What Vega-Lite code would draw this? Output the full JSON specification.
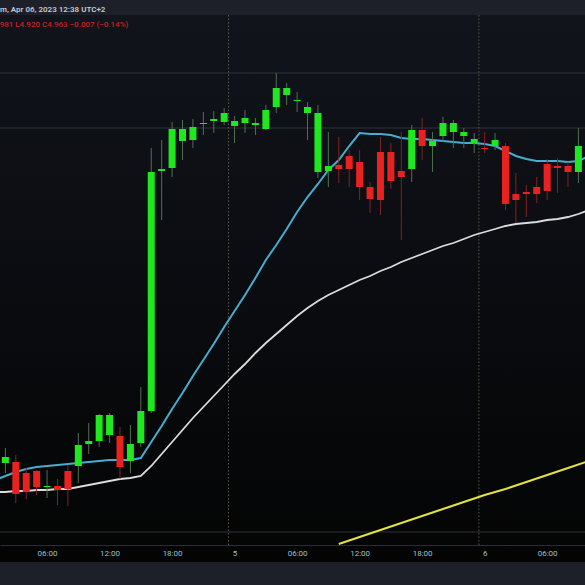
{
  "$schema": "https://vega.github.io/schema/vega-lite/v6.json",
  "width": 585,
  "height": 547,
  "autosize": {"type": "none"},
  "padding": {"left": 0, "right": 0, "top": 15, "bottom": 23},
  "background": "#1e2029",
  "title": {
    "text": "m, Apr 06, 2023 12:38 UTC+2",
    "anchor": "start",
    "frame": "group",
    "orient": "top",
    "offset": 1,
    "fontSize": 8,
    "fontWeight": 600,
    "font": "Roboto",
    "color": "#c5c8d0"
  },
  "config": {
    "view": {
      "stroke": null,
      "fill": {
        "gradient": "linear",
        "x1": 0, "y1": 0, "x2": 0, "y2": 1,
        "stops": [
          {"offset": 0, "color": "#11141b"},
          {"offset": 0.5, "color": "#0a0c10"},
          {"offset": 1, "color": "#040404"}
        ]
      }
    }
  },
  "resolve": {"axis": {"x": "independent", "y": "independent"}},
  "datasets": {
    "candles": [
      {"t": "2023-04-04T02:00:00Z", "o": 4.665, "h": 4.680, "l": 4.655, "c": 4.671},
      {"t": "2023-04-04T03:00:00Z", "o": 4.666, "h": 4.673, "l": 4.625, "c": 4.634},
      {"t": "2023-04-04T04:00:00Z", "o": 4.655, "h": 4.660, "l": 4.629, "c": 4.636},
      {"t": "2023-04-04T05:00:00Z", "o": 4.657, "h": 4.658, "l": 4.633, "c": 4.641},
      {"t": "2023-04-04T06:00:00Z", "o": 4.641, "h": 4.658, "l": 4.630, "c": 4.642},
      {"t": "2023-04-04T07:00:00Z", "o": 4.642, "h": 4.649, "l": 4.623, "c": 4.638},
      {"t": "2023-04-04T08:00:00Z", "o": 4.657, "h": 4.663, "l": 4.622, "c": 4.639},
      {"t": "2023-04-04T09:00:00Z", "o": 4.662, "h": 4.695, "l": 4.645, "c": 4.683},
      {"t": "2023-04-04T10:00:00Z", "o": 4.684, "h": 4.705, "l": 4.674, "c": 4.687},
      {"t": "2023-04-04T11:00:00Z", "o": 4.687, "h": 4.714, "l": 4.681, "c": 4.713},
      {"t": "2023-04-04T12:00:00Z", "o": 4.693, "h": 4.715, "l": 4.685, "c": 4.713},
      {"t": "2023-04-04T13:00:00Z", "o": 4.692, "h": 4.701, "l": 4.649, "c": 4.661},
      {"t": "2023-04-04T14:00:00Z", "o": 4.667, "h": 4.703, "l": 4.655, "c": 4.684},
      {"t": "2023-04-04T15:00:00Z", "o": 4.685, "h": 4.741, "l": 4.681, "c": 4.717},
      {"t": "2023-04-04T16:00:00Z", "o": 4.717, "h": 4.980, "l": 4.715, "c": 4.956},
      {"t": "2023-04-04T17:00:00Z", "o": 4.957, "h": 4.988, "l": 4.908, "c": 4.959},
      {"t": "2023-04-04T18:00:00Z", "o": 4.960, "h": 5.006, "l": 4.951, "c": 4.999},
      {"t": "2023-04-04T19:00:00Z", "o": 4.987, "h": 5.008, "l": 4.968, "c": 4.999},
      {"t": "2023-04-04T20:00:00Z", "o": 4.988, "h": 5.009, "l": 4.980, "c": 5.001},
      {"t": "2023-04-04T21:00:00Z", "o": 5.004, "h": 5.016, "l": 4.993, "c": 5.005},
      {"t": "2023-04-04T22:00:00Z", "o": 5.007, "h": 5.017, "l": 4.995, "c": 5.009},
      {"t": "2023-04-04T23:00:00Z", "o": 5.006, "h": 5.020, "l": 5.003, "c": 5.015},
      {"t": "2023-04-05T00:00:00Z", "o": 5.002, "h": 5.012, "l": 4.985, "c": 5.007},
      {"t": "2023-04-05T01:00:00Z", "o": 5.005, "h": 5.018, "l": 4.995, "c": 5.010},
      {"t": "2023-04-05T02:00:00Z", "o": 5.003, "h": 5.010, "l": 4.993, "c": 5.005},
      {"t": "2023-04-05T03:00:00Z", "o": 4.999, "h": 5.023, "l": 4.998, "c": 5.018},
      {"t": "2023-04-05T04:00:00Z", "o": 5.021, "h": 5.055, "l": 5.015, "c": 5.040},
      {"t": "2023-04-05T05:00:00Z", "o": 5.033, "h": 5.045, "l": 5.023, "c": 5.040},
      {"t": "2023-04-05T06:00:00Z", "o": 5.027, "h": 5.036, "l": 5.016, "c": 5.028},
      {"t": "2023-04-05T07:00:00Z", "o": 5.015, "h": 5.026, "l": 4.988, "c": 5.021},
      {"t": "2023-04-05T08:00:00Z", "o": 4.956, "h": 5.023, "l": 4.950, "c": 5.015},
      {"t": "2023-04-05T09:00:00Z", "o": 4.957, "h": 4.996, "l": 4.941, "c": 4.962},
      {"t": "2023-04-05T10:00:00Z", "o": 4.963, "h": 4.991, "l": 4.945, "c": 4.959},
      {"t": "2023-04-05T11:00:00Z", "o": 4.972, "h": 4.978, "l": 4.941, "c": 4.959},
      {"t": "2023-04-05T12:00:00Z", "o": 4.966, "h": 4.978, "l": 4.928, "c": 4.941},
      {"t": "2023-04-05T13:00:00Z", "o": 4.941, "h": 4.946, "l": 4.915, "c": 4.929},
      {"t": "2023-04-05T14:00:00Z", "o": 4.976, "h": 4.991, "l": 4.913, "c": 4.928},
      {"t": "2023-04-05T15:00:00Z", "o": 4.976, "h": 4.985, "l": 4.939, "c": 4.947},
      {"t": "2023-04-05T16:00:00Z", "o": 4.957, "h": 4.996, "l": 4.888, "c": 4.951},
      {"t": "2023-04-05T17:00:00Z", "o": 4.959, "h": 5.003, "l": 4.946, "c": 4.998},
      {"t": "2023-04-05T18:00:00Z", "o": 4.998, "h": 5.010, "l": 4.968, "c": 4.982},
      {"t": "2023-04-05T19:00:00Z", "o": 4.982, "h": 4.996, "l": 4.956, "c": 4.987},
      {"t": "2023-04-05T20:00:00Z", "o": 4.992, "h": 5.011, "l": 4.986, "c": 5.005},
      {"t": "2023-04-05T21:00:00Z", "o": 4.996, "h": 5.008, "l": 4.980, "c": 5.005},
      {"t": "2023-04-05T22:00:00Z", "o": 4.992, "h": 5.000, "l": 4.980, "c": 4.996},
      {"t": "2023-04-05T23:00:00Z", "o": 4.985, "h": 4.995, "l": 4.975, "c": 4.989},
      {"t": "2023-04-06T00:00:00Z", "o": 4.980, "h": 4.996, "l": 4.975, "c": 4.979},
      {"t": "2023-04-06T01:00:00Z", "o": 4.982, "h": 4.995, "l": 4.978, "c": 4.988},
      {"t": "2023-04-06T02:00:00Z", "o": 4.982, "h": 4.985, "l": 4.918, "c": 4.924},
      {"t": "2023-04-06T03:00:00Z", "o": 4.934, "h": 4.955, "l": 4.905, "c": 4.928},
      {"t": "2023-04-06T04:00:00Z", "o": 4.936, "h": 4.943, "l": 4.911, "c": 4.934},
      {"t": "2023-04-06T05:00:00Z", "o": 4.941, "h": 4.951, "l": 4.925, "c": 4.934},
      {"t": "2023-04-06T06:00:00Z", "o": 4.964, "h": 4.969, "l": 4.928, "c": 4.937},
      {"t": "2023-04-06T07:00:00Z", "o": 4.962, "h": 4.970, "l": 4.935, "c": 4.960},
      {"t": "2023-04-06T08:00:00Z", "o": 4.962, "h": 4.966, "l": 4.941, "c": 4.956},
      {"t": "2023-04-06T09:00:00Z", "o": 4.956, "h": 5.000, "l": 4.945, "c": 4.982},
      {"t": "2023-04-06T10:00:00Z", "o": 4.985, "h": 5.010, "l": 4.980, "c": 5.000}
    ],
    "averages": [
      {"t": "2023-04-04T01:00:00Z", "ema": 4.648, "sma": 4.636},
      {"t": "2023-04-04T02:00:00Z", "ema": 4.652, "sma": 4.636},
      {"t": "2023-04-04T03:00:00Z", "ema": 4.656, "sma": 4.637},
      {"t": "2023-04-04T04:00:00Z", "ema": 4.659, "sma": 4.637},
      {"t": "2023-04-04T05:00:00Z", "ema": 4.661, "sma": 4.638},
      {"t": "2023-04-04T06:00:00Z", "ema": 4.662, "sma": 4.638},
      {"t": "2023-04-04T07:00:00Z", "ema": 4.663, "sma": 4.639},
      {"t": "2023-04-04T08:00:00Z", "ema": 4.664, "sma": 4.639},
      {"t": "2023-04-04T09:00:00Z", "ema": 4.665, "sma": 4.641},
      {"t": "2023-04-04T10:00:00Z", "ema": 4.666, "sma": 4.643},
      {"t": "2023-04-04T11:00:00Z", "ema": 4.667, "sma": 4.645},
      {"t": "2023-04-04T12:00:00Z", "ema": 4.668, "sma": 4.647},
      {"t": "2023-04-04T13:00:00Z", "ema": 4.668, "sma": 4.649},
      {"t": "2023-04-04T14:00:00Z", "ema": 4.668, "sma": 4.650},
      {"t": "2023-04-04T15:00:00Z", "ema": 4.670, "sma": 4.652},
      {"t": "2023-04-04T16:00:00Z", "ema": 4.686, "sma": 4.662},
      {"t": "2023-04-04T17:00:00Z", "ema": 4.702, "sma": 4.674},
      {"t": "2023-04-04T18:00:00Z", "ema": 4.719, "sma": 4.686},
      {"t": "2023-04-04T19:00:00Z", "ema": 4.735, "sma": 4.698},
      {"t": "2023-04-04T20:00:00Z", "ema": 4.752, "sma": 4.710},
      {"t": "2023-04-04T21:00:00Z", "ema": 4.768, "sma": 4.721},
      {"t": "2023-04-04T22:00:00Z", "ema": 4.784, "sma": 4.732},
      {"t": "2023-04-04T23:00:00Z", "ema": 4.801, "sma": 4.743},
      {"t": "2023-04-05T00:00:00Z", "ema": 4.817, "sma": 4.754},
      {"t": "2023-04-05T01:00:00Z", "ema": 4.833, "sma": 4.764},
      {"t": "2023-04-05T02:00:00Z", "ema": 4.850, "sma": 4.775},
      {"t": "2023-04-05T03:00:00Z", "ema": 4.868, "sma": 4.785},
      {"t": "2023-04-05T04:00:00Z", "ema": 4.883, "sma": 4.794},
      {"t": "2023-04-05T05:00:00Z", "ema": 4.899, "sma": 4.803},
      {"t": "2023-04-05T06:00:00Z", "ema": 4.916, "sma": 4.812},
      {"t": "2023-04-05T07:00:00Z", "ema": 4.931, "sma": 4.820},
      {"t": "2023-04-05T08:00:00Z", "ema": 4.944, "sma": 4.827},
      {"t": "2023-04-05T09:00:00Z", "ema": 4.958, "sma": 4.833},
      {"t": "2023-04-05T10:00:00Z", "ema": 4.968, "sma": 4.838},
      {"t": "2023-04-05T11:00:00Z", "ema": 4.982, "sma": 4.843},
      {"t": "2023-04-05T12:00:00Z", "ema": 4.995, "sma": 4.848},
      {"t": "2023-04-05T13:00:00Z", "ema": 4.994, "sma": 4.852},
      {"t": "2023-04-05T14:00:00Z", "ema": 4.994, "sma": 4.857},
      {"t": "2023-04-05T15:00:00Z", "ema": 4.993, "sma": 4.861},
      {"t": "2023-04-05T16:00:00Z", "ema": 4.990, "sma": 4.866},
      {"t": "2023-04-05T17:00:00Z", "ema": 4.989, "sma": 4.870},
      {"t": "2023-04-05T18:00:00Z", "ema": 4.989, "sma": 4.874},
      {"t": "2023-04-05T19:00:00Z", "ema": 4.988, "sma": 4.878},
      {"t": "2023-04-05T20:00:00Z", "ema": 4.987, "sma": 4.882},
      {"t": "2023-04-05T21:00:00Z", "ema": 4.986, "sma": 4.885},
      {"t": "2023-04-05T22:00:00Z", "ema": 4.985, "sma": 4.889},
      {"t": "2023-04-05T23:00:00Z", "ema": 4.985, "sma": 4.893},
      {"t": "2023-04-06T00:00:00Z", "ema": 4.984, "sma": 4.896},
      {"t": "2023-04-06T01:00:00Z", "ema": 4.982, "sma": 4.899},
      {"t": "2023-04-06T02:00:00Z", "ema": 4.977, "sma": 4.902},
      {"t": "2023-04-06T03:00:00Z", "ema": 4.972, "sma": 4.904},
      {"t": "2023-04-06T04:00:00Z", "ema": 4.969, "sma": 4.905},
      {"t": "2023-04-06T05:00:00Z", "ema": 4.967, "sma": 4.906},
      {"t": "2023-04-06T06:00:00Z", "ema": 4.967, "sma": 4.908},
      {"t": "2023-04-06T07:00:00Z", "ema": 4.967, "sma": 4.909},
      {"t": "2023-04-06T08:00:00Z", "ema": 4.966, "sma": 4.911},
      {"t": "2023-04-06T09:00:00Z", "ema": 4.967, "sma": 4.914},
      {"t": "2023-04-06T10:00:00Z", "ema": 4.972, "sma": 4.918}
    ],
    "trend": [
      {"t": "2023-04-05T10:00:00Z", "v": 4.584},
      {"t": "2023-04-05T12:00:00Z", "v": 4.591},
      {"t": "2023-04-05T14:00:00Z", "v": 4.598},
      {"t": "2023-04-05T16:00:00Z", "v": 4.605},
      {"t": "2023-04-05T18:00:00Z", "v": 4.612},
      {"t": "2023-04-05T20:00:00Z", "v": 4.619},
      {"t": "2023-04-05T22:00:00Z", "v": 4.626},
      {"t": "2023-04-06T00:00:00Z", "v": 4.633},
      {"t": "2023-04-06T02:00:00Z", "v": 4.639},
      {"t": "2023-04-06T04:00:00Z", "v": 4.646},
      {"t": "2023-04-06T06:00:00Z", "v": 4.653},
      {"t": "2023-04-06T08:00:00Z", "v": 4.660},
      {"t": "2023-04-06T10:00:00Z", "v": 4.667}
    ],
    "sessions": [
      {"t": "2023-04-04T23:25:00Z"},
      {"t": "2023-04-05T23:27:00Z"}
    ],
    "levels": [
      {"p": 5.055},
      {"p": 5.000},
      {"p": 4.596}
    ],
    "legend": [
      {"t": "2023-04-04T01:27:00Z", "p": 5.103, "label": "981  L4.920  C4.963  −0.007 (−0.14%)"}
    ]
  },
  "layer": [
    {
      "data": {"name": "levels"},
      "mark": {"type": "rule", "color": "#2e323d", "strokeWidth": 1},
      "encoding": {
        "y": {"field": "p", "type": "quantitative", "axis": null,
              "scale": {"domain": [4.566, 5.113], "nice": false, "zero": false}}
      }
    },
    {
      "data": {"name": "sessions"},
      "mark": {"type": "rule", "color": "#5a574d", "strokeWidth": 1, "strokeDash": [1.5, 2]},
      "encoding": {
        "x": {
          "field": "t",
          "type": "temporal",
          "scale": {
            "type": "utc",
            "padding": 0,
            "domain": [
              {"year": 2023, "month": 4, "date": 4, "hours": 1, "minutes": 29, "utc": true},
              {"year": 2023, "month": 4, "date": 6, "hours": 9, "minutes": 38, "utc": true}
            ]
          },
          "axis": {
            "title": null,
            "values": [
              {"year": 2023, "month": 4, "date": 4, "hours": 6, "utc": true},
              {"year": 2023, "month": 4, "date": 4, "hours": 12, "utc": true},
              {"year": 2023, "month": 4, "date": 4, "hours": 18, "utc": true},
              {"year": 2023, "month": 4, "date": 5, "hours": 0, "utc": true},
              {"year": 2023, "month": 4, "date": 5, "hours": 6, "utc": true},
              {"year": 2023, "month": 4, "date": 5, "hours": 12, "utc": true},
              {"year": 2023, "month": 4, "date": 5, "hours": 18, "utc": true},
              {"year": 2023, "month": 4, "date": 6, "hours": 0, "utc": true},
              {"year": 2023, "month": 4, "date": 6, "hours": 6, "utc": true}
            ],
            "labelExpr": "utchours(datum.value) == 0 ? utcFormat(datum.value, '%-d') : utcFormat(datum.value, '%H:%M')",
            "offset": -17,
            "domain": true,
            "domainColor": "#2a2e38",
            "domainWidth": 1,
            "ticks": false,
            "grid": false,
            "labelColor": "#9cc2c8",
            "labelFont": "Roboto",
            "labelFontSize": 8,
            "labelPadding": 4,
            "labelOverlap": false,
            "labelFlush": false,
            "labelBound": false
          }
        },
        "y": {"datum": 5.113, "type": "quantitative", "axis": null},
        "y2": {"datum": 4.583}
      }
    },
    {
      "data": {"name": "trend"},
      "mark": {"type": "line", "color": "#e4e43c", "strokeWidth": 2, "clip": true},
      "encoding": {
        "x": {"field": "t", "type": "temporal", "axis": null},
        "y": {"field": "v", "type": "quantitative", "axis": null}
      }
    },
    {
      "data": {"name": "averages"},
      "mark": {"type": "line", "color": "#dcdcdc", "strokeWidth": 1.8, "clip": true},
      "encoding": {
        "x": {"field": "t", "type": "temporal", "axis": null},
        "y": {"field": "sma", "type": "quantitative", "axis": null}
      }
    },
    {
      "data": {"name": "averages"},
      "mark": {"type": "line", "color": "#45aecf", "strokeWidth": 2, "clip": true},
      "encoding": {
        "x": {"field": "t", "type": "temporal", "axis": null},
        "y": {"field": "ema", "type": "quantitative", "axis": null}
      }
    },
    {
      "data": {"name": "candles"},
      "mark": {"type": "rule", "strokeWidth": 1, "clip": true},
      "encoding": {
        "x": {"field": "t", "type": "temporal", "axis": null},
        "y": {"field": "l", "type": "quantitative", "axis": null},
        "y2": {"field": "h"},
        "color": {"condition": {"test": "datum.c >= datum.o", "value": "#4f714f"}, "value": "#7f2323"}
      }
    },
    {
      "data": {"name": "candles"},
      "mark": {"type": "bar", "width": 7, "clip": true},
      "encoding": {
        "x": {"field": "t", "type": "temporal", "axis": null},
        "y": {"field": "o", "type": "quantitative", "axis": null},
        "y2": {"field": "c"},
        "color": {"condition": {"test": "datum.c >= datum.o", "value": "#1fe81f"}, "value": "#e8221e"}
      }
    },
    {
      "data": {"name": "legend"},
      "mark": {"type": "text", "align": "left", "baseline": "middle", "font": "Roboto", "fontSize": 8, "fontWeight": 500, "color": "#c4221e"},
      "encoding": {
        "x": {"field": "t", "type": "temporal", "axis": null},
        "y": {"field": "p", "type": "quantitative", "axis": null},
        "text": {"field": "label"}
      }
    }
  ]
}
